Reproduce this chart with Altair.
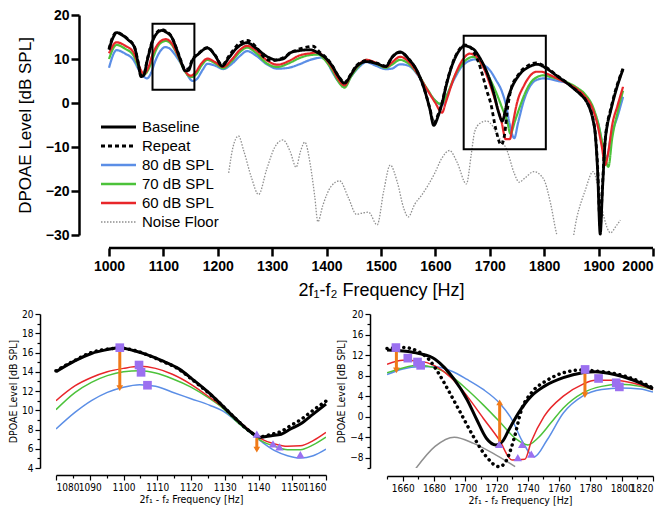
import altair as alt
import pandas as pd

FONT = "Liberation Sans"
NARROW = "Liberation Sans Narrow, DejaVu Sans Condensed, Liberation Sans"

# ---------------- top panel data ----------------
base_f = [1000, 1008, 1014, 1022, 1035, 1047, 1053, 1059, 1064, 1070, 1080, 1090, 1097, 1105, 1115, 1125,
          1133, 1140, 1146, 1153, 1165, 1181, 1195, 1208, 1220, 1235, 1254, 1270, 1290, 1308, 1320, 1333,
          1350, 1369, 1387, 1400, 1410, 1421, 1433, 1445, 1455, 1473, 1491, 1509, 1520, 1535, 1551, 1568,
          1580, 1590, 1597, 1605, 1612, 1620, 1630, 1642, 1654, 1665, 1672, 1680, 1690, 1700, 1708, 1716,
          1723, 1728, 1732, 1740, 1749, 1760, 1769, 1787, 1806, 1825, 1842, 1855, 1867, 1878, 1885, 1890,
          1894, 1898, 1903, 1907, 1912, 1916, 1921, 1930, 1945]
base_v = [12.1, 15.0, 16.0, 15.6, 14.4, 12.6, 9.5, 6.0, 6.3, 9.5, 14.0, 16.1, 16.5, 16.1, 15.0, 12.0,
          9.2, 7.3, 7.4, 9.6, 11.2, 12.5, 10.8, 8.4, 10.2, 12.5, 13.7, 12.5, 10.6, 9.8, 10.0, 11.4,
          11.9, 12.1, 11.2, 10.0, 8.5, 6.2, 4.5, 6.5, 8.3, 9.4, 9.0, 8.3, 10.3, 11.6, 10.0, 6.9,
          3.0, -1.5, -5.1, -3.0, -0.2, 4.0, 8.3, 11.6, 13.0, 12.6, 12.0, 10.6, 8.3, 5.2, 1.9, -2.0,
          -4.1, -2.0, 0.4, 3.4, 5.5, 7.2, 8.0, 8.8, 7.7, 6.0, 4.5, 3.2, 1.9, 0.3, -1.7, -4.0,
          -7.3, -15.0, -29.8, -20.0, -8.8, -5.0, -2.4, 2.0, 7.7]

rep_f = [1000, 1008, 1014, 1022, 1035, 1047, 1053, 1059, 1064, 1070, 1080, 1090, 1097, 1105, 1115, 1125,
         1133, 1140, 1146, 1153, 1165, 1181, 1195, 1208, 1220, 1240, 1254, 1270, 1285, 1300, 1320, 1340,
         1360, 1375, 1387, 1400, 1410, 1421, 1433, 1445, 1455, 1473, 1491, 1509, 1520, 1535, 1551, 1568,
         1580, 1590, 1597, 1605, 1612, 1620, 1630, 1642, 1654, 1665, 1672, 1680, 1687, 1694, 1702, 1711,
         1721, 1727, 1733, 1740, 1749, 1760, 1770, 1785, 1806, 1825, 1842, 1855, 1867, 1878, 1885, 1890,
         1894, 1898, 1903, 1907, 1912, 1916, 1921, 1930, 1945]
rep_v = [12.3, 15.3, 16.1, 15.7, 14.5, 12.7, 9.6, 6.2, 6.5, 9.7, 14.2, 16.3, 16.7, 16.3, 15.1, 12.1,
         9.4, 7.6, 7.8, 9.8, 11.3, 12.6, 10.9, 8.6, 10.6, 13.6, 14.2, 12.8, 10.4, 9.6, 10.3, 11.8,
         12.6, 12.9, 11.6, 10.2, 8.6, 6.3, 4.7, 6.6, 8.5, 9.6, 9.1, 8.4, 10.4, 11.5, 10.0, 6.8,
         3.0, -1.3, -4.6, -2.6, 0.0, 4.2, 8.5, 11.8, 13.2, 12.6, 11.2, 9.0, 6.2, 3.0, -0.2, -5.9,
         -9.5, -7.3, -0.9, 3.6, 5.8, 7.6, 8.5, 9.1, 7.9, 6.1, 4.6, 3.3, 2.0, 0.3, -1.5, -3.8,
         -7.0, -14.0, -28.0, -19.0, -8.5, -4.6, -2.0, 2.4, 7.9]

red_f = [1000, 1014, 1030, 1045, 1055, 1064, 1072, 1080, 1090, 1100, 1105, 1115, 1125, 1135, 1145, 1150,
         1158, 1170, 1181, 1195, 1210, 1225, 1240, 1254, 1270, 1290, 1310, 1330, 1350, 1370, 1383, 1395,
         1410, 1421, 1433, 1445, 1460, 1473, 1490, 1509, 1520, 1535, 1550, 1568, 1585, 1600, 1612, 1620,
         1635, 1650, 1663, 1672, 1680, 1690, 1701, 1712, 1722, 1729, 1737, 1742, 1750, 1763, 1775, 1785,
         1795, 1808, 1825, 1842, 1860, 1875, 1888, 1898, 1906, 1912, 1918, 1925, 1935, 1945]
red_v = [11.3, 13.8, 13.0, 11.5, 8.5, 6.6, 8.0, 11.0, 13.4, 14.4, 14.5, 13.6, 11.3, 8.5, 6.5, 6.2,
         6.8, 9.0, 10.1, 9.3, 8.2, 9.8, 12.0, 13.0, 12.0, 9.7, 8.7, 9.5, 10.8, 11.3, 11.5, 10.5,
         8.0, 5.5, 4.0, 6.5, 8.8, 9.8, 9.2, 8.2, 9.2, 10.5, 9.5, 6.5, 3.0, 0.0, -2.2, 0.5,
         6.0, 9.8, 11.2, 10.9, 9.9, 7.6, 4.0, -0.3, -4.5, -8.2, -8.2, -4.9, 0.0, 4.0, 6.3, 7.1,
         7.1, 6.5, 5.5, 4.5, 3.2, 1.5, -1.0, -5.0, -10.0, -14.1, -11.0, -5.0, -0.5, 3.7]

grn_f = [1000, 1014, 1030, 1045, 1055, 1065, 1072, 1080, 1090, 1100, 1105, 1115, 1125, 1135, 1145, 1152,
         1160, 1170, 1181, 1195, 1210, 1225, 1240, 1254, 1270, 1290, 1310, 1330, 1350, 1370, 1385, 1395,
         1410, 1421, 1433, 1445, 1460, 1473, 1490, 1509, 1520, 1535, 1550, 1568, 1585, 1600, 1610, 1620,
         1635, 1650, 1670, 1680, 1690, 1701, 1712, 1722, 1732, 1738, 1746, 1754, 1763, 1775, 1787, 1799,
         1812, 1825, 1842, 1860, 1875, 1890, 1900, 1910, 1918, 1925, 1935, 1945]
grn_v = [10.0, 13.2, 12.3, 10.8, 8.0, 6.5, 7.5, 10.0, 12.9, 14.0, 14.1, 13.3, 11.1, 8.3, 6.3, 5.9,
         6.5, 8.5, 9.8, 9.0, 7.9, 9.4, 11.5, 12.6, 11.4, 9.0, 8.2, 9.0, 10.2, 10.9, 11.0, 10.0,
         7.5, 5.0, 3.5, 6.0, 8.5, 9.8, 9.0, 8.0, 8.7, 9.8, 9.0, 6.5, 3.2, 0.5, -0.2, 1.5,
         6.0, 9.0, 10.5, 9.5, 7.9, 5.3, 2.3, -0.9, -4.2, -7.0, -4.2, -1.3, 1.7, 4.6, 5.9, 6.3,
         5.9, 5.5, 4.7, 3.5, 2.0, -1.0, -5.0, -11.0, -14.5, -8.0, -2.0, 2.8]

blu_f = [1000, 1014, 1030, 1045, 1055, 1070, 1078, 1085, 1095, 1103, 1110, 1120, 1130, 1140, 1150, 1155,
         1162, 1172, 1181, 1195, 1210, 1225, 1240, 1254, 1270, 1290, 1310, 1330, 1350, 1370, 1390, 1400,
         1410, 1421, 1433, 1445, 1460, 1473, 1490, 1509, 1520, 1535, 1550, 1568, 1585, 1600, 1612, 1620,
         1635, 1650, 1673, 1686, 1701, 1711, 1722, 1730, 1736, 1745, 1752, 1763, 1775, 1787, 1800, 1812,
         1825, 1842, 1860, 1875, 1890, 1900, 1908, 1915, 1922, 1935, 1945]
blu_v = [8.0, 12.0, 11.2, 9.8, 7.5, 5.6, 7.0, 9.5, 11.9, 12.7, 12.5, 11.2, 9.4, 7.4, 5.3, 5.0,
         5.5, 7.5, 8.9, 8.5, 7.7, 8.8, 10.6, 11.8, 10.8, 8.8, 7.8, 8.0, 8.8, 9.8, 10.3, 9.5,
         7.2, 5.0, 3.8, 6.0, 8.2, 9.3, 8.5, 7.7, 7.8, 8.8, 8.5, 6.3, 3.0, 0.5, -0.5, 1.5,
         5.5, 8.5, 9.9, 8.9, 7.3, 5.3, 2.7, -0.6, -4.5, -8.0, -4.5, 0.7, 4.0, 5.3, 5.6, 5.4,
         5.0, 4.5, 3.0, 1.5, -1.5, -5.0, -10.0, -12.5, -8.0, -3.0, 1.4]

noise_f = [1220, 1228, 1238, 1248, 1262, 1275, 1290, 1305, 1320, 1333, 1344, 1352, 1360, 1370, 1378, 1384,
           1393, 1408, 1424, 1440, 1455, 1466, 1477, 1493, 1505, 1517, 1530, 1542, 1550, 1562, 1575, 1599,
           1612, 1626, 1640, 1657, 1666, 1672, 1682, 1694, 1705, 1714, 1732, 1745, 1754, 1765, 1781, 1799,
           1812, 1823, 1835, 1850, 1860, 1875, 1890, 1897, 1903, 1910, 1922, 1932, 1940]
noise_v = [-15.9, -10.0, -7.5, -11.0, -17.0, -20.8, -15.0, -10.0, -8.4, -11.0, -14.6, -11.0, -8.9, -14.0, -21.0, -27.0,
           -23.3, -19.0, -17.7, -21.5, -25.3, -25.0, -24.8, -27.7, -20.0, -14.1, -18.0, -24.0, -25.9, -23.0, -20.9, -15.9,
           -12.5, -10.8, -13.5, -18.4, -11.6, -6.6, -4.6, -4.1, -5.2, -7.3, -10.9, -16.0, -18.0, -17.0, -15.6, -17.3,
           -23.0, -29.8, -33.0, -32.0, -26.0, -20.0, -15.6, -18.0, -22.0, -26.0, -29.5, -28.0, -26.6]

# zoom boxes drawn on the top panel
box_f1 = [1080, 1652]
box_f2 = [1157, 1803]
box_v1 = [3.0, -10.5]
box_v2 = [18.0, 15.3]

# top x axis runs from 1000 to 2000 Hz
top_ticks = list(range(1000, 2001, 100))

# ---------------- bottom-left panel data ----------------
bl_base_f = [1080, 1085.7, 1090.5, 1095.2, 1098.9, 1102.9, 1106.7, 1111.4, 1116.2, 1121, 1125.7, 1129.5,
             1133.3, 1137.1, 1140.5, 1143.8, 1146.7, 1149.5, 1152.4, 1156.2, 1160]
bl_base_v = [14.0, 15.15, 15.9, 16.3, 16.5, 16.2, 15.8, 15.15, 14.35, 13.07, 11.7, 10.4,
             9.1, 7.9, 7.2, 7.36, 7.5, 8.05, 8.57, 9.6, 10.65]
bl_rep_v = [14.1, 15.2, 16.0, 16.35, 16.45, 16.25, 15.8, 15.1, 14.3, 13.0, 11.65, 10.4,
            9.1, 7.9, 7.25, 7.5, 7.8, 8.4, 9.0, 10.0, 10.95]
bl_f = [1080, 1085.7, 1090.5, 1095.2, 1100, 1104.8, 1109.5, 1114.3, 1120, 1125.7, 1129.5, 1133.3,
        1137.1, 1141, 1144.8, 1148.6, 1152.4, 1156.2, 1160]
bl_red = [11.0, 12.55, 13.4, 14.0, 14.35, 14.56, 14.35, 13.77, 12.7, 11.3, 10.3, 9.1,
          8.0, 7.0, 6.5, 6.25, 6.3, 6.84, 7.7]
bl_grn = [10.06, 11.86, 12.9, 13.6, 14.0, 14.1, 13.87, 13.3, 12.4, 11.17, 10.2, 8.9,
          7.8, 6.8, 6.25, 5.9, 5.9, 6.4, 7.2]
bl_blu = [8.05, 9.8, 11.0, 11.86, 12.4, 12.66, 12.5, 11.9, 11.2, 10.5, 9.9, 8.9,
          7.8, 6.7, 5.8, 5.28, 5.04, 5.28, 5.97]
bl_sq_f = [1098.9, 1104.6, 1105.2, 1107.1]
bl_sq_v = [16.5, 14.7, 13.94, 12.6]
bl_tri_f = [1139.5, 1144.3, 1146.2, 1152.4]
bl_tri_v = [7.53, 6.5, 6.2, 5.38]
bl_arr_f = [1098.9, 1139.5]
bl_arr_from = [16.2, 7.1]
bl_arr_to = [12.3, 5.9]
bl_arr_dir = ["down", "down"]

# ---------------- bottom-right panel data ----------------
br_base_f = [1650, 1660.2, 1670.5, 1680.7, 1686.9, 1693, 1701.2, 1707.4, 1713.5, 1719.6, 1723.7, 1727.8,
             1734, 1742.2, 1750.4, 1762.7, 1775, 1783.1, 1795.4, 1807.7, 1820]
br_base_v = [13.0, 12.8, 12.3, 11.2, 9.5, 7.25, 3.3, -0.6, -4.2, -5.5, -4.85, -2.6,
             0.7, 4.0, 5.9, 7.6, 8.55, 8.75, 8.2, 7.1, 5.4]
br_rep_f = [1650, 1660.2, 1670.5, 1676.6, 1682.8, 1688.9, 1697.1, 1705.3, 1713.5, 1721.7, 1725.8, 1731,
            1736, 1742.2, 1752.4, 1762.7, 1775, 1783.1, 1795.4, 1807.7, 1820]
br_rep_v = [13.3, 13.5, 12.6, 11.2, 8.55, 5.3, 0.7, -3.9, -7.8, -9.75, -8.8, -4.5,
            1.4, 4.6, 7.1, 8.55, 9.1, 8.9, 8.4, 7.3, 5.6]
br_red_f = [1650, 1660.2, 1670.5, 1680.7, 1691, 1701.2, 1711.5, 1721.7, 1729.9, 1738.1, 1742.2, 1750.4,
            1762.7, 1775, 1783.1, 1795.4, 1807.7, 1820]
br_red_v = [10.2, 11.0, 10.85, 9.9, 7.6, 4.0, -0.3, -4.5, -8.45, -8.3, -4.85, 0.05,
            4.0, 6.3, 7.1, 7.1, 6.5, 5.3]
br_grn_f = [1650, 1660.2, 1670.5, 1680.7, 1691, 1701.2, 1711.5, 1721.7, 1731.9, 1740.1, 1746.3, 1754.5,
            1762.7, 1775, 1787.2, 1799.5, 1811.8, 1820]
br_grn_v = [8.55, 9.5, 10.0, 9.5, 7.9, 5.3, 2.3, -0.9, -4.2, -5.5, -4.2, -1.3,
            1.7, 4.6, 5.9, 6.3, 5.9, 5.3]
br_blu_f = [1650, 1660.2, 1670.5, 1680.7, 1691, 1701.2, 1711.5, 1721.7, 1729.9, 1736, 1744.2, 1752.4,
            1762.7, 1775, 1787.2, 1799.5, 1811.8, 1820]
br_blu_v = [8.2, 9.3, 9.7, 9.7, 8.9, 7.25, 5.3, 2.7, -0.6, -4.5, -7.8, -4.5,
            0.7, 4.0, 5.3, 5.6, 5.4, 4.8]
br_noise_f = [1668.4, 1680.7, 1693, 1705.3, 1717.6, 1731.9]
br_noise_v = [-10.1, -5.8, -4.0, -5.2, -7.1, -9.75]
br_sq_f = [1655.7, 1663.3, 1669.5, 1671.5, 1776.6, 1785.2, 1796.5, 1798.5]
br_sq_v = [13.46, 11.4, 10.65, 10.0, 9.2, 7.44, 6.6, 5.8]
br_tri_f = [1721.7, 1733.6, 1736.4, 1742.2]
br_tri_v = [-5.4, -8.0, -5.4, -7.3]
br_arr_f = [1656, 1722, 1776.5]
br_arr_from = [13.0, -5.0, 9.0]
br_arr_to = [9.0, 2.8, 4.2]
br_arr_dir = ["down", "up", "down"]

SERIES = ["Baseline", "Repeat", "80 dB SPL", "70 dB SPL", "60 dB SPL", "Noise Floor"]
COLORS = ["#000000", "#000000", "#5b8ee6", "#4cc23a", "#e8262a", "#8f8f8f"]
DASHES = [[1, 0], [4, 3], [1, 0], [1, 0], [1, 0], [1.5, 1.5]]
WIDTHS = [2.8, 2.8, 2.2, 2.2, 2.2, 1.3]
PURPLE = "#9b70f0"
ORANGE = "#f07a18"


def frame(name, f, v):
    return pd.DataFrame({"series": name, "freq": f, "level": v})


# ================= top panel =================
TOP_W, TOP_H = 597, 220
top_df = pd.concat([
    frame("Noise Floor", noise_f, noise_v),
    frame("80 dB SPL", blu_f, blu_v),
    frame("70 dB SPL", grn_f, grn_v),
    frame("60 dB SPL", red_f, red_v),
    frame("Repeat", rep_f, rep_v),
    frame("Baseline", base_f, base_v),
], ignore_index=True)

# plot area starts left of 1000 Hz so that the offset y axis sits where the reference has it
top_xscale = alt.Scale(domain=[902.6, 2000], nice=False, zero=False, padding=0)
top_yscale = alt.Scale(domain=[-30, 20], nice=False, zero=False, padding=0)
top_xaxis = alt.Axis(values=top_ticks, offset=13, format="d", domain=False,
                     title="2f\u2081-f\u2082 Frequency [Hz]", titleFontSize=18, titleX=325,
                     titleFontWeight="normal", titlePadding=8,
                     labelFontSize=14, labelFontWeight="bold", labelPadding=3)
top_yaxis = alt.Axis(values=[-30, -20, -10, 0, 10, 20], offset=-23,
                     title="DPOAE Level [dB SPL]", titleFontSize=17,
                     titleFontWeight="normal", titlePadding=11,
                     labelFontSize=14, labelFontWeight="bold", labelPadding=2)
top_color = alt.Color("series:N", scale=alt.Scale(domain=SERIES, range=COLORS), legend=None)
top_dash = alt.StrokeDash("series:N", scale=alt.Scale(domain=SERIES, range=DASHES), legend=None)

tbase = alt.Chart(top_df).encode(
    x=alt.X("freq:Q", scale=top_xscale, axis=top_xaxis),
    y=alt.Y("level:Q", scale=top_yscale, axis=top_yaxis),
    color=top_color, strokeDash=top_dash)
t_noise = tbase.transform_filter(alt.datum.series == "Noise Floor").mark_line(
    strokeWidth=1.3, clip=True, interpolate="monotone")
t_col = tbase.transform_filter(
    alt.FieldOneOfPredicate(field="series", oneOf=["80 dB SPL", "70 dB SPL", "60 dB SPL"])
).mark_line(strokeWidth=2.2, interpolate="monotone")
t_blk = tbase.transform_filter(
    alt.FieldOneOfPredicate(field="series", oneOf=["Repeat", "Baseline"])
).mark_line(strokeWidth=2.8, interpolate="monotone")

box_df = pd.DataFrame({"f1": box_f1, "f2": box_f2, "v1": box_v1, "v2": box_v2})
t_box = alt.Chart(box_df).mark_rect(fill=None, stroke="black", strokeWidth=2).encode(
    x=alt.X("f1:Q", scale=top_xscale, axis=top_xaxis), x2="f2",
    y=alt.Y("v1:Q", scale=top_yscale, axis=top_yaxis), y2="v2")

# x axis baseline from first to last tick, drawn below the plot like an offset axis
axis_df = pd.DataFrame({"f1": [top_ticks[0]], "f2": [top_ticks[-1]]})
t_axis = alt.Chart(axis_df).mark_rule(color="black", strokeWidth=2.5).encode(
    x=alt.X("f1:Q", scale=top_xscale, axis=top_xaxis), x2="f2", y=alt.value(TOP_H + 13))

# legend (drawn as guide marks inside the top plot)
legend_layers = []
for i, name in enumerate(SERIES):
    row_y = 112 + 19 * i
    one = pd.DataFrame({"series": [name]})
    legend_layers.append(alt.Chart(one).mark_rule(
        color=COLORS[i], strokeWidth=WIDTHS[i] + 0.2, strokeDash=DASHES[i]).encode(
        x=alt.value(45), x2=alt.value(80), y=alt.value(row_y)))
    legend_layers.append(alt.Chart(one).mark_text(
        align="left", baseline="middle", font=FONT, fontSize=15, color="black").encode(
        x=alt.value(86), y=alt.value(row_y), text="series:N"))

top = alt.layer(t_noise, t_col, t_blk, t_box, t_axis, *legend_layers).properties(width=TOP_W, height=TOP_H)


# ================= bottom panels =================
def panel(lines, sq_f, sq_v, tri_f, tri_v, arr_f, arr_from, arr_to, arr_dir,
          xdom, xmaj, xmin_step, ydom, ymaj, ymin_step, width, height, xoff, yoff):
    xs = list(range(xdom[0], xdom[1] + 1, xmin_step))
    ys = list(range(ydom[0], ydom[1] + 1, ymin_step))
    xaxis = alt.Axis(values=xs, offset=xoff, format="d", grid=False, labelOverlap=False,
                     labelExpr=f"datum.value % {xmaj} == 0 ? datum.label : ''",
                     tickSize={"condition": {"test": f"datum.value % {xmaj} == 0", "value": 5}, "value": 3},
                     title="2f\u2081 - f\u2082 Frequency [Hz]", titleFontSize=10.5, titleFontWeight="normal",
                     titleFont=NARROW, labelFont=NARROW, labelFontSize=10, titlePadding=2,
                     domainWidth=1.5, tickWidth=1.2, labelPadding=2)
    yaxis = alt.Axis(values=ys, offset=yoff, grid=False, labelOverlap=False,
                     labelExpr=f"datum.value % {ymaj} == 0 ? datum.label : ''",
                     tickSize={"condition": {"test": f"datum.value % {ymaj} == 0", "value": 5}, "value": 3},
                     title="DPOAE Level [dB SPL]", titleFontSize=10.5, titleFontWeight="normal",
                     titleFont=NARROW, labelFont=NARROW, labelFontSize=10, titlePadding=3,
                     domainWidth=1.5, tickWidth=1.2, labelPadding=2)
    xsc = alt.Scale(domain=xdom, nice=False, zero=False, padding=0)
    ysc = alt.Scale(domain=ydom, nice=False, zero=False, padding=0)
    x = alt.X("freq:Q", scale=xsc, axis=xaxis)
    y = alt.Y("level:Q", scale=ysc, axis=yaxis)
    col = alt.Color("series:N", scale=alt.Scale(domain=SERIES,
                    range=["#000000", "#000000", "#5b8ee6", "#4cc23a", "#e8262a", "#c4c4c4"]), legend=None)
    b = alt.Chart(lines).encode(x=x, y=y, color=col)
    thin = b.transform_filter(
        alt.FieldOneOfPredicate(field="series", oneOf=["Noise Floor", "80 dB SPL", "70 dB SPL", "60 dB SPL"])
    ).mark_line(strokeWidth=1.5, interpolate="monotone", clip=True)
    rep = b.transform_filter(alt.datum.series == "Repeat").mark_line(
        strokeWidth=3.5, strokeDash=[0.1, 5.5], strokeCap="round", interpolate="monotone")
    bas = b.transform_filter(alt.datum.series == "Baseline").mark_line(
        strokeWidth=3, interpolate="monotone")
    arr = pd.DataFrame({"freq": arr_f, "level": arr_from, "level2": arr_to, "dir": arr_dir})
    shaft = alt.Chart(arr).mark_rule(color=ORANGE, strokeWidth=3).encode(x=x, y=y, y2="level2")
    head = alt.Chart(arr).mark_point(filled=True, color=ORANGE, opacity=1, size=45).encode(
        x=x, y=alt.Y("level2:Q", scale=ysc, axis=yaxis),
        shape=alt.Shape("dir:N", scale=alt.Scale(domain=["down", "up"],
                        range=["triangle-down", "triangle-up"]), legend=None))
    sq = alt.Chart(pd.DataFrame({"freq": sq_f, "level": sq_v})).mark_square(
        color=PURPLE, opacity=1, size=75).encode(x=x, y=y)
    tri = alt.Chart(pd.DataFrame({"freq": tri_f, "level": tri_v})).mark_point(
        shape="triangle-up", filled=True, color=PURPLE, opacity=1, size=70).encode(x=x, y=y)
    return alt.layer(thin, rep, bas, shaft, head, sq, tri).properties(width=width, height=height)


bl_lines = pd.concat([
    frame("80 dB SPL", bl_f, bl_blu),
    frame("70 dB SPL", bl_f, bl_grn),
    frame("60 dB SPL", bl_f, bl_red),
    frame("Repeat", bl_base_f, bl_rep_v),
    frame("Baseline", bl_base_f, bl_base_v),
], ignore_index=True)

br_lines = pd.concat([
    frame("Noise Floor", br_noise_f, br_noise_v),
    frame("80 dB SPL", br_blu_f, br_blu_v),
    frame("70 dB SPL", br_grn_f, br_grn_v),
    frame("60 dB SPL", br_red_f, br_red_v),
    frame("Repeat", br_rep_f, br_rep_v),
    frame("Baseline", br_base_f, br_base_v),
], ignore_index=True)

left = panel(bl_lines, bl_sq_f, bl_sq_v, bl_tri_f, bl_tri_v, bl_arr_f, bl_arr_from, bl_arr_to, bl_arr_dir,
             [1080, 1160], 10, 5, [4, 20], 2, 1, 270, 154, 7, 16)
right = panel(br_lines, br_sq_f, br_sq_v, br_tri_f, br_tri_v, br_arr_f, br_arr_from, br_arr_to, br_arr_dir,
              [1650, 1820], 20, 10, [-10, 20], 4, 2, 266, 154, 8, 17)

bottom = alt.hconcat(left, right, spacing=3)

chart = alt.vconcat(top, bottom, spacing=10).properties(
    padding={"left": 0, "top": 0, "right": 0, "bottom": 0}
).configure_view(stroke=None).configure_axis(
    labelColor="black", titleColor="black", domainColor="black", tickColor="black",
    labelFont=FONT, titleFont=FONT, grid=False, domainWidth=2.5, tickWidth=2.5, tickSize=8
)

chart.save("out.html", embed_options={"renderer": "svg", "actions": False})
